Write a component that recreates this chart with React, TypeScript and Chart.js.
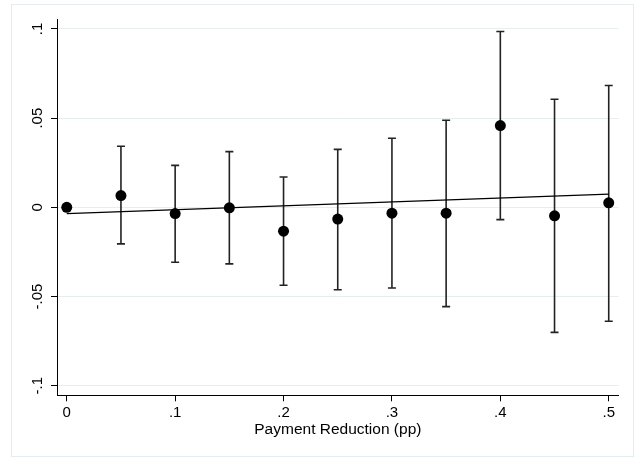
import React, { useEffect, useRef } from "react";
import { Chart, registerables } from "chart.js";

Chart.register(...registerables);

// ---- data ----
const xValues = [0, 0.05, 0.1, 0.15, 0.2, 0.25, 0.3, 0.35, 0.4, 0.45, 0.5];
const estimates = [0, 0.0066, -0.0035, -0.0003, -0.0134, -0.0066, -0.0033, -0.0033, 0.0458, -0.0048, 0.0025];
const lowerCI = [null, -0.0205, -0.0308, -0.0317, -0.0437, -0.0462, -0.0452, -0.0557, -0.0069, -0.0701, -0.0639];
const upperCI = [null, 0.0342, 0.0235, 0.0312, 0.017, 0.0325, 0.0387, 0.0488, 0.0986, 0.0606, 0.0683];
const fitX = [0, 0.5];
const fitY = [-0.0035, 0.0074];
const xTickValues = [0, 0.1, 0.2, 0.3, 0.4, 0.5];
const yTickValues = [-0.1, -0.05, 0, 0.05, 0.1];
const xAxisTitle = "Payment Reduction (pp)";

const FONT = "'Liberation Sans', Arial, Helvetica, sans-serif";

function stataFormat(v: number): string {
  let s = String(Number(Number(v).toFixed(4)));
  s = s.replace(/^0\./, ".").replace(/^-0\./, "-.");
  return s;
}

export default function App() {
  const canvasRef = useRef<HTMLCanvasElement | null>(null);

  useEffect(() => {
    const canvas = canvasRef.current;
    if (!canvas) return;

    const pointData = xValues.map((x, i) => ({ x, y: estimates[i] }));
    const barData: { x: number; y: number | null }[] = [];
    xValues.forEach((x, i) => {
      const lo = lowerCI[i];
      const hi = upperCI[i];
      if (lo === null || hi === null) return;
      barData.push({ x, y: lo });
      barData.push({ x, y: hi });
      barData.push({ x, y: null });
    });
    const fitData = fitX.map((x, i) => ({ x, y: fitY[i] }));

    const chart = new Chart(canvas, {
      type: "scatter",
      data: {
        datasets: [
          {
            label: "estimates",
            data: pointData,
            pointRadius: 5.5,
            pointHoverRadius: 5.5,
            pointBackgroundColor: "#000",
            pointBorderWidth: 0,
            showLine: false,
          },
          {
            label: "fit",
            data: fitData,
            showLine: true,
            pointRadius: 0,
            borderColor: "#000",
            borderWidth: 1.3,
          },
          {
            label: "ci",
            data: barData as any,
            showLine: true,
            spanGaps: false,
            borderColor: "#222",
            borderWidth: 1.6,
            pointStyle: "line",
            pointRadius: 4,
            pointHoverRadius: 4,
            pointBorderColor: "#222",
            pointBorderWidth: 1.6,
          },
        ],
      },
      options: {
        responsive: false,
        animation: false,
        events: [],
        layout: { padding: { left: 0, top: 19.5, right: 18.3, bottom: 0 } },
        plugins: {
          legend: { display: false },
          tooltip: { enabled: false },
        },
        scales: {
          x: {
            type: "linear",
            min: -0.009,
            max: 0.5092,
            afterBuildTicks: (s: any) => {
              s.ticks = xTickValues.map((v) => ({ value: v }));
            },
            afterFit: (s: any) => {
              s.height = 62.7;
            },
            ticks: {
              callback: (v: any) => stataFormat(v),
              font: { family: FONT, size: 15 },
              color: "#000",
              padding: 2.5,
              maxRotation: 0,
              autoSkip: false,
            },
            grid: {
              drawOnChartArea: false,
              tickLength: 6,
              tickColor: "#000",
              tickWidth: 1,
            },
            border: { display: true, color: "#000", width: 1 },
            title: {
              display: true,
              text: xAxisTitle,
              font: { family: FONT, size: 15.5 },
              color: "#000",
              padding: { top: 0, bottom: 19 },
            },
          },
          y: {
            type: "linear",
            min: -0.1054,
            max: 0.1053,
            afterBuildTicks: (s: any) => {
              s.ticks = yTickValues.map((v) => ({ value: v }));
            },
            afterFit: (s: any) => {
              s.width = 57;
            },
            ticks: {
              callback: (v: any) => stataFormat(v),
              font: { family: FONT, size: 15 },
              color: "#000",
              minRotation: 90,
              maxRotation: 90,
              crossAlign: "center",
              padding: 0,
              autoSkip: false,
            },
            grid: {
              color: "#e6eef0",
              lineWidth: 1,
              tickLength: 6,
              tickColor: "#000",
              tickWidth: 1,
            },
            border: { display: true, color: "#000", width: 1 },
          },
        },
      },
    } as any);

    return () => chart.destroy();
  }, []);

  return (
    <div style={{ position: "absolute", left: 0, top: 0, width: 637, height: 458, background: "#fff" }}>
      <div
        style={{
          position: "absolute",
          left: 11,
          top: 4,
          width: 623,
          height: 453,
          boxSizing: "border-box",
          border: "1px solid #e3ecee",
        }}
      />
      <canvas
        ref={canvasRef}
        width={637}
        height={458}
        style={{ position: "absolute", left: 0, top: 0, width: 637, height: 458 }}
      />
    </div>
  );
}
